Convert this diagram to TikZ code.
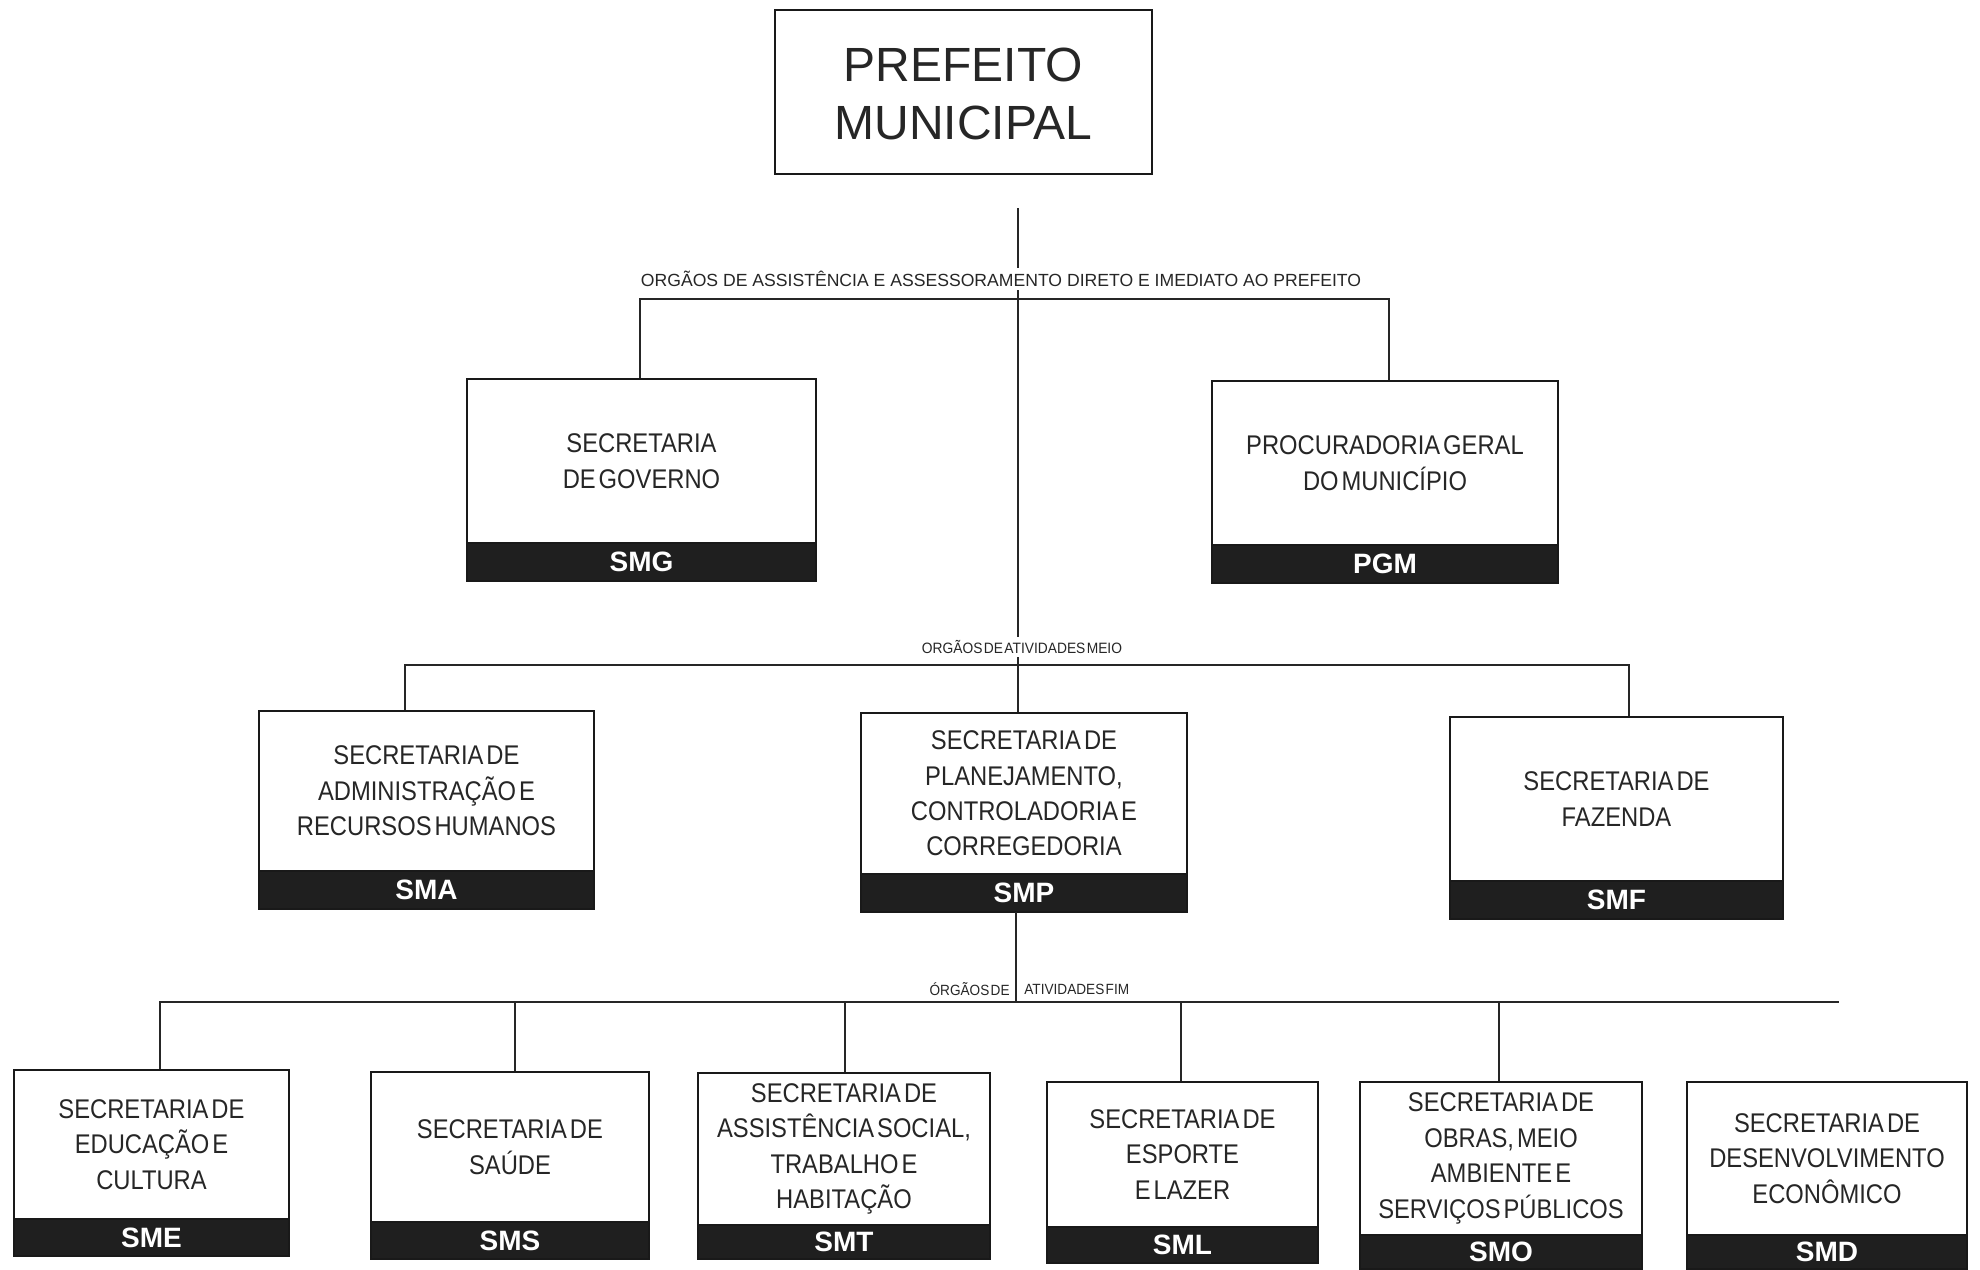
\documentclass[tikz,border=0pt]{standalone}
\usepackage{fontspec}
\setmainfont{Liberation Sans}
\newfontfamily\boxfont[FakeStretch=0.88,WordSpace=0.45]{Liberation Sans}
\newfontfamily\labfont[FakeStretch=0.92,WordSpace=0.35]{Liberation Sans}
\usetikzlibrary{fit,calc}
\tikzset{
  frame/.style={draw=black!90, line width=1.4pt, fill=white, inner sep=0pt},
  bandbox/.style={fill=black!88, draw=black!90, line width=0.8pt, inner sep=0pt},
  bandtext/.style={inner sep=0pt, text=white, font=\fontsize{14}{16}\selectfont\bfseries},
  boxtext/.style={inner sep=0pt, align=center, text=black!85, font=\boxfont\fontsize{13.5}{17.7}\selectfont},
  conn/.style={draw=black!85, line width=1.2pt},
  grouplabel/.style={fill=white, inner sep=1.5pt, text=black!85},
}
\newcommand\orgunit[8]{%
  \node[frame, fit={(#2,#3) (#4,#5)}] (#1) {};
  \node[bandbox, fit={(#2,#6) (#4,#5)}] (#1-b) {};
  \node[bandtext] (#1-l) at (#1-b.center) {#7};
  \coordinate (#1-c) at ($(#2,#3)!0.5!(#4,#6)$);
  \node[boxtext] (#1-t) at (#1-c) {#8};
}
\begin{document}
\begin{tikzpicture}[x=0.5pt,y=-0.5pt]
\useasboundingbox[fill=white] (0,0) rectangle (1980,1269);

% title
\node[frame, fit={(775,10) (1152,174)}] (pref) {};
\node[align=center, text=black!85, inner sep=0pt,
      font=\fontsize{24}{29}\selectfont] (pref-t) at ([yshift=-1pt]pref.center) {PREFEITO\\MUNICIPAL};

% units
\orgunit{smg}{467}{379}{816}{581}{543}{SMG}{SECRETARIA\\DE GOVERNO}
\orgunit{pgm}{1212}{381}{1558}{583}{545}{PGM}{PROCURADORIA GERAL\\DO MUNICÍPIO}

\orgunit{sma}{259}{711}{594}{909}{871}{SMA}{SECRETARIA DE\\ADMINISTRAÇÃO E\\RECURSOS HUMANOS}
\orgunit{smp}{861}{713}{1187}{912}{874}{SMP}{SECRETARIA DE\\PLANEJAMENTO,\\CONTROLADORIA E\\CORREGEDORIA}
\orgunit{smf}{1450}{717}{1783}{919}{881}{SMF}{SECRETARIA DE\\FAZENDA}

\orgunit{sme}{14}{1070}{289}{1256}{1219}{SME}{SECRETARIA DE\\EDUCAÇÃO E\\CULTURA}
\orgunit{sms}{371}{1072}{649}{1259}{1222}{SMS}{SECRETARIA DE\\SAÚDE}
\orgunit{smt}{698}{1073}{990}{1259}{1225}{SMT}{SECRETARIA DE\\ASSISTÊNCIA SOCIAL,\\TRABALHO E\\HABITAÇÃO}
\orgunit{sml}{1047}{1082}{1318}{1263}{1227}{SML}{SECRETARIA DE\\ESPORTE\\E LAZER}
\orgunit{smo}{1360}{1082}{1642}{1269}{1235}{SMO}{SECRETARIA DE\\OBRAS, MEIO\\AMBIENTE E\\SERVIÇOS PÚBLICOS}
\orgunit{smd}{1687}{1082}{1967}{1269}{1235}{SMD}{SECRETARIA DE\\DESENVOLVIMENTO\\ECONÔMICO}

% connector points
\coordinate (trunktop) at (1018,208);
\coordinate (tbL) at (640,299);
\coordinate (tbR) at (1389,299);
\coordinate (mbL) at (405,665);
\coordinate (mbR) at (1629,665);
\coordinate (lowtop) at (1016,912);
\coordinate (bbL) at (160,1002);
\coordinate (bbR) at (1839,1002);

% trunk
\draw[conn] (trunktop) -- (trunktop |- smp.north);
\draw[conn] (lowtop) -- (lowtop |- bbL);

% top bar
\draw[conn] (tbL |- smg.north) -- (tbL) -- (tbR) -- (tbR |- pgm.north);
% middle bar
\draw[conn] (mbL |- sma.north) -- (mbL) -- (mbR) -- (mbR |- smf.north);
% bottom bar
\draw[conn] (bbL |- sme.north) -- (bbL) -- (bbR);
\draw[conn] (515,1002) -- (515,1002 |- sms.north);
\draw[conn] (845,1002) -- (845,1002 |- smt.north);
\draw[conn] (1181,1002) -- (1181,1002 |- sml.north);
\draw[conn] (1499,1002) -- (1499,1002 |- smo.north);

% group labels
\node[grouplabel, font=\fontsize{8.8}{10}\selectfont] (lab1) at (1001,279)
  {ORGÃOS DE ASSISTÊNCIA E ASSESSORAMENTO DIRETO E IMEDIATO AO PREFEITO};
\node[grouplabel, font=\labfont\fontsize{7.5}{8}\selectfont] (lab2) at (1022,647)
  {ORGÃOS DE ATIVIDADES MEIO};
\node[inner sep=0pt, anchor=east, text=black!85, font=\labfont\fontsize{7.4}{8}\selectfont] (lab3a) at (1010,989) {ÓRGÃOS DE};
\node[inner sep=0pt, anchor=west, text=black!85, font=\labfont\fontsize{7.4}{8}\selectfont] (lab3b) at (1024,989) {ATIVIDADES FIM};
\end{tikzpicture}
\end{document}
